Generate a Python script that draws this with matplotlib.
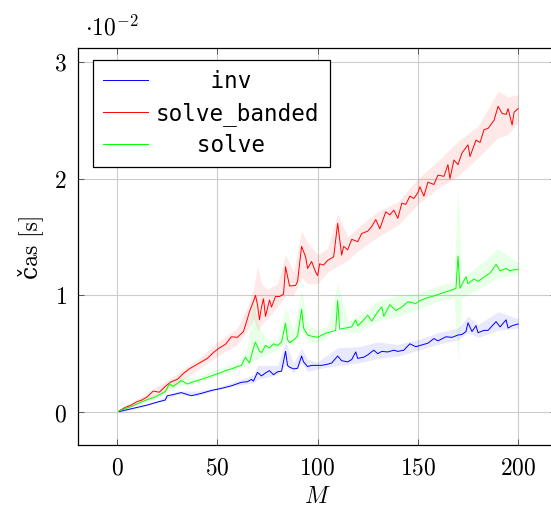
import matplotlib
matplotlib.use('Agg')
import matplotlib.pyplot as plt
import numpy as np

plt.rcParams['mathtext.fontset'] = 'cm'
plt.rcParams['font.family'] = 'DejaVu Serif'

# times in units of 1e-2 s

# inv
m_inv = [1, 5, 10, 15, 20, 24, 25, 28, 32, 35, 37, 42, 47, 52, 57, 62, 65, 67, 68, 70,
         72, 74, 76, 78, 80, 82, 84, 85, 86, 88, 90, 92, 93, 95, 97, 100, 102, 105, 107, 110,
         112, 115, 117, 119, 120, 123, 125, 128, 130, 132, 135, 138, 140, 143, 146, 149, 152, 155, 158, 160,
         164, 167, 170, 172, 174, 175, 177, 179, 180, 183, 185, 189, 191, 194, 195, 197, 200]
t_inv = [0.005, 0.02, 0.04, 0.06, 0.085, 0.103, 0.14, 0.15, 0.167, 0.15, 0.14, 0.16, 0.185, 0.203, 0.225, 0.255, 0.26, 0.28, 0.265, 0.34,
         0.31, 0.335, 0.355, 0.32, 0.345, 0.35, 0.52, 0.40, 0.385, 0.37, 0.375, 0.48, 0.43, 0.39, 0.40, 0.40, 0.40, 0.41, 0.42, 0.48,
         0.44, 0.43, 0.45, 0.515, 0.46, 0.47, 0.49, 0.53, 0.50, 0.52, 0.515, 0.53, 0.52, 0.53, 0.585, 0.56, 0.575, 0.59, 0.63, 0.61,
         0.645, 0.64, 0.66, 0.665, 0.69, 0.765, 0.69, 0.74, 0.68, 0.70, 0.70, 0.775, 0.73, 0.79, 0.72, 0.74, 0.755]

# solve_banded
m_band = [1, 4, 7, 10, 12, 15, 18, 21, 24, 27, 30, 33, 36, 39, 42, 45, 48, 51, 54, 57,
          60, 63, 65, 66, 68, 69, 70, 71, 72, 73, 74, 76, 77, 79, 81, 83, 84, 86, 89, 90,
          92, 94, 95, 97, 99, 100, 101, 103, 105, 108, 110, 112, 113, 115, 117, 120, 122, 125, 127, 129,
          131, 134, 136, 138, 140, 142, 144, 146, 148, 150, 151, 153, 155, 158, 160, 163, 165, 166, 168, 170,
          172, 175, 176, 179, 181, 183, 185, 188, 190, 192, 194, 195, 197, 198, 200]
t_band = [0.01, 0.04, 0.06, 0.09, 0.10, 0.13, 0.18, 0.17, 0.22, 0.26, 0.28, 0.33, 0.37, 0.40, 0.43, 0.46, 0.51, 0.55, 0.58, 0.645,
          0.64, 0.69, 0.80, 0.86, 0.95, 1.00, 0.92, 0.79, 0.90, 0.97, 0.82, 0.96, 0.90, 0.99, 0.99, 1.01, 1.245, 1.08, 1.085, 1.12,
          1.42, 1.33, 1.23, 1.29, 1.20, 1.17, 1.27, 1.26, 1.30, 1.33, 1.617, 1.345, 1.42, 1.39, 1.48, 1.46, 1.53, 1.55, 1.59, 1.65,
          1.57, 1.716, 1.69, 1.73, 1.66, 1.79, 1.78, 1.85, 1.83, 1.88, 1.93, 1.85, 1.97, 1.95, 2.03, 2.02, 2.12, 2.00, 2.16, 2.12,
          2.22, 2.29, 2.19, 2.33, 2.31, 2.42, 2.43, 2.50, 2.62, 2.56, 2.55, 2.60, 2.46, 2.57, 2.60]

# solve
m_solve = [1, 4, 7, 10, 14, 19, 24, 26, 28, 32, 35, 38, 42, 47, 52, 54, 57, 60, 62, 64,
           66, 68, 69, 71, 72, 74, 76, 78, 80, 82, 84, 85, 86, 88, 90, 92, 93, 95, 97, 100,
           104, 107, 109, 110, 111, 114, 117, 119, 120, 123, 125, 127, 130, 132, 133, 136, 139, 142, 145, 149,
           151, 154, 158, 162, 166, 169, 170, 171, 174, 175, 178, 180, 184, 186, 189, 191, 194, 196, 198, 200]
t_solve = [0.01, 0.03, 0.046, 0.07, 0.10, 0.13, 0.175, 0.24, 0.22, 0.27, 0.24, 0.26, 0.28, 0.31, 0.34, 0.355, 0.37, 0.39, 0.40, 0.47,
           0.42, 0.55, 0.60, 0.52, 0.51, 0.57, 0.55, 0.585, 0.57, 0.60, 0.76, 0.62, 0.595, 0.617, 0.65, 0.88, 0.72, 0.66, 0.65, 0.64,
           0.675, 0.69, 0.70, 0.955, 0.71, 0.72, 0.73, 0.79, 0.74, 0.79, 0.83, 0.78, 0.86, 0.90, 0.82, 0.92, 0.87, 0.90, 0.945, 0.93,
           0.955, 0.975, 0.995, 1.02, 1.04, 1.06, 1.337, 1.06, 1.16, 1.10, 1.14, 1.12, 1.17, 1.19, 1.265, 1.21, 1.23, 1.21, 1.22, 1.225]

# shaded spread (lower / upper edge)
mb_inv = [1, 10, 20, 30, 40, 50, 60, 68, 70, 75, 80, 84, 88, 92, 95, 100, 110, 120, 130, 140, 150, 160, 170, 175, 180, 190, 200]
lo_inv = [0.0, 0.03, 0.08, 0.15, 0.14, 0.19, 0.23, 0.25, 0.28, 0.30, 0.32, 0.40, 0.34, 0.42, 0.35, 0.37, 0.40, 0.42, 0.46, 0.48, 0.53, 0.58, 0.62, 0.68, 0.64, 0.70, 0.72]
hi_inv = [0.01, 0.05, 0.10, 0.18, 0.18, 0.21, 0.27, 0.32, 0.40, 0.40, 0.40, 0.60, 0.42, 0.55, 0.45, 0.43, 0.55, 0.56, 0.60, 0.58, 0.62, 0.68, 0.72, 0.82, 0.75, 0.86, 0.80]

mb_band = [1, 10, 20, 30, 40, 50, 60, 65, 68, 70, 72, 75, 80, 84, 88, 92, 95, 100, 105, 110, 115, 120, 130, 140, 150, 160, 170, 180, 190, 195, 200]
lo_band = [0.0, 0.07, 0.15, 0.24, 0.36, 0.48, 0.58, 0.70, 0.80, 0.70, 0.75, 0.80, 0.90, 1.00, 1.00, 1.15, 1.10, 1.10, 1.20, 1.25, 1.30, 1.38, 1.50, 1.60, 1.78, 1.92, 2.02, 2.18, 2.35, 2.38, 2.48]
hi_band = [0.02, 0.11, 0.22, 0.33, 0.45, 0.60, 0.72, 0.90, 1.05, 1.25, 1.10, 1.05, 1.10, 1.35, 1.20, 1.55, 1.45, 1.35, 1.40, 1.70, 1.50, 1.58, 1.72, 1.80, 2.00, 2.15, 2.32, 2.45, 2.75, 2.70, 2.72]

mb_solve = [1, 10, 20, 30, 40, 50, 60, 65, 68, 70, 75, 80, 84, 88, 92, 95, 100, 105, 110, 115, 120, 130, 140, 150, 160, 168, 170, 172, 180, 190, 200]
lo_solve = [0.0, 0.06, 0.12, 0.22, 0.25, 0.31, 0.37, 0.40, 0.45, 0.45, 0.50, 0.53, 0.60, 0.57, 0.70, 0.60, 0.60, 0.64, 0.80, 0.68, 0.68, 0.78, 0.82, 0.88, 0.95, 0.98, 0.45, 0.98, 1.05, 1.15, 1.18]
hi_solve = [0.02, 0.08, 0.16, 0.30, 0.30, 0.37, 0.42, 0.55, 1.00, 0.75, 0.62, 0.62, 0.90, 0.70, 1.05, 0.75, 0.70, 0.74, 1.10, 0.78, 0.82, 0.95, 1.00, 1.02, 1.08, 1.12, 1.95, 1.15, 1.25, 1.40, 1.28]

labels = ['    inv', 'solve_banded', '   solve']

fig = plt.figure(figsize=(5.51, 5.09), dpi=100)
ax = fig.add_axes([0.1416, 0.1251, 0.8675, 0.7812])

ax.fill_between(mb_inv, lo_inv, hi_inv, color='blue', alpha=0.09, lw=0)
ax.fill_between(mb_band, lo_band, hi_band, color='red', alpha=0.09, lw=0)
ax.fill_between(mb_solve, lo_solve, hi_solve, color='lime', alpha=0.09, lw=0)

ax.plot(m_inv, t_inv, color='blue', lw=0.7, label=labels[0])
ax.plot(m_band, t_band, color='red', lw=0.7, label=labels[1])
ax.plot(m_solve, t_solve, color='lime', lw=0.7, label=labels[2])

ax.set_xlim(-19.5, 218.9)
ax.set_ylim(-0.285, 3.122)
ax.set_xticks([0, 50, 100, 150, 200])
ax.set_xticklabels(['$%d$' % v for v in [0, 50, 100, 150, 200]])
ax.set_yticks([0, 1, 2, 3])
ax.set_yticklabels(['$%d$' % v for v in [0, 1, 2, 3]])
ax.tick_params(direction='in', length=4, width=0.6, top=True, right=True,
               labelsize=17, color='#444444', pad=8)
ax.grid(True, color='#cccccc', lw=0.8)
ax.set_axisbelow(True)
for s in ax.spines.values():
    s.set_linewidth(0.9)

ax.set_xlabel('$M$', fontsize=17, labelpad=4)
ax.set_ylabel('čas [s]', fontsize=17, labelpad=8, family=['cmr10', 'DejaVu Serif'])
fig.text(0.155, 0.945, r'$\cdot 10^{-2}$', fontsize=17, ha='left', va='center')

leg = ax.legend(loc='upper left', bbox_to_anchor=(0.0308, 0.969), borderaxespad=0,
                prop={'family': 'DejaVu Sans Mono', 'size': 16.3},
                handlelength=2.0, handletextpad=0.35, labelspacing=0.37,
                borderpad=0.45, fancybox=False, framealpha=1, edgecolor='black')
leg.get_frame().set_linewidth(0.9)

fig.savefig('out.png', dpi=100)
